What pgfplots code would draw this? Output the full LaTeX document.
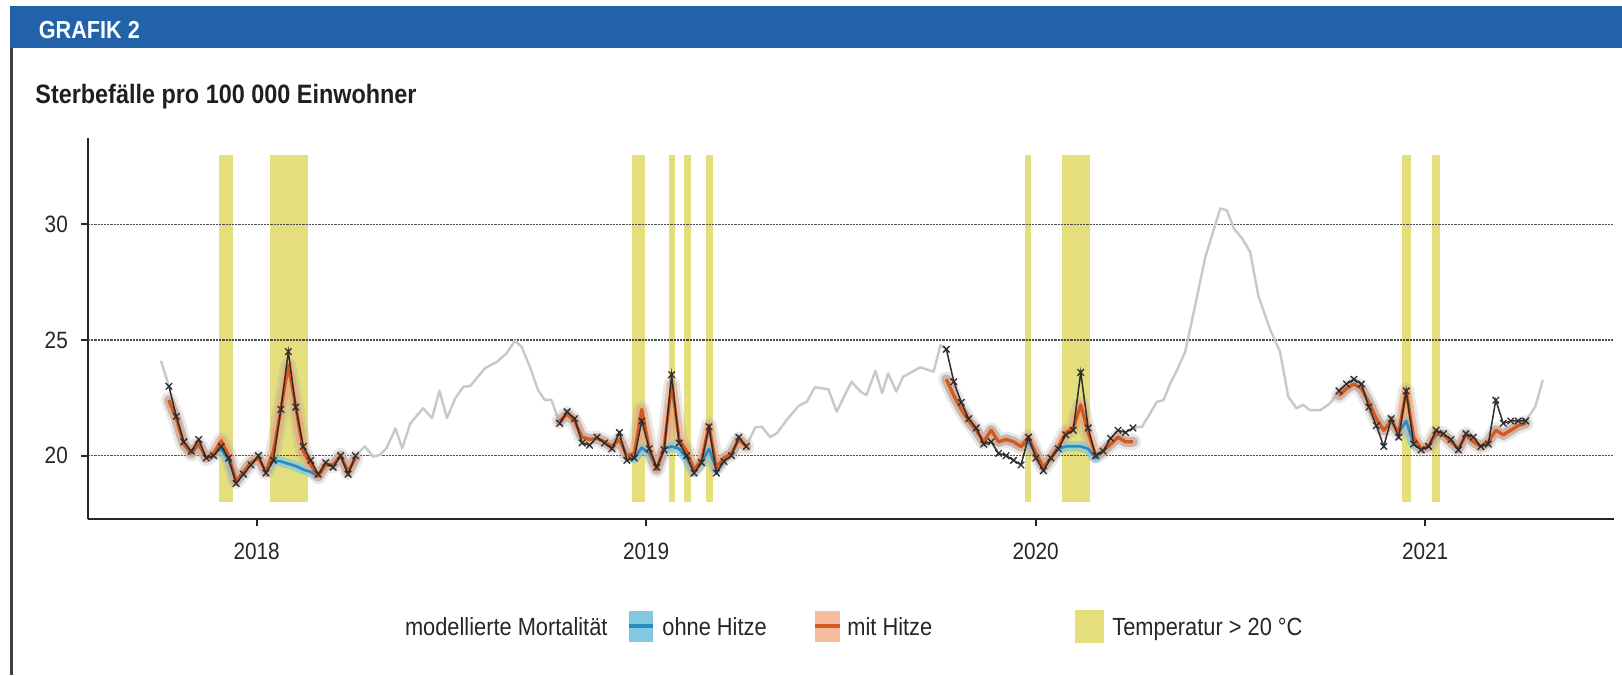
\documentclass[border=0pt]{standalone}
\usepackage{fontspec}
\setmainfont{Liberation Sans}[FakeStretch=0.88]
\usepackage{pgfplots}
\usepackage{pgfplotstable}
\pgfplotsset{compat=1.18}
\definecolor{headerblue}{RGB}{33,98,170}
\definecolor{yel}{RGB}{228,222,125}
\definecolor{orl}{RGB}{212,88,32}
\definecolor{orb}{RGB}{240,160,120}
\definecolor{bll}{RGB}{40,140,195}
\definecolor{blb}{RGB}{130,200,225}
\definecolor{grb}{RGB}{165,165,165}
\definecolor{obs}{RGB}{45,45,45}
\definecolor{grl}{RGB}{200,200,200}

\pgfplotstableread{
i obs mit ohne
0 23.0 22.4 22.4
1 21.7 21.6 21.6
2 20.6 20.5 20.5
3 20.2 20.1 20.1
4 20.7 20.5 20.5
5 19.9 19.9 19.9
6 20.0 20.1 20.1
7 20.4 20.65 20.3
8 19.9 20.0 19.8
9 18.8 18.9 18.9
10 19.2 19.3 19.3
11 19.6 19.7 19.7
12 20.0 19.9 19.9
13 19.25 19.3 19.3
14 19.8 20.2 19.8
15 22.0 22.0 19.75
16 24.5 23.9 19.65
17 22.1 22.1 19.55
18 20.4 20.2 19.4
19 19.8 19.6 19.3
20 19.2 19.1 19.1
21 19.7 19.6 19.6
22 19.5 19.6 19.6
23 20.0 20.0 20.0
24 19.2 19.3 19.3
25 20.0 19.9 19.9
}\seasonA

\pgfplotstableread{
i obs mit ohne
0 21.4 21.5 21.5
1 21.9 21.8 21.8
2 21.6 21.5 21.5
3 20.55 20.8 20.8
4 20.45 20.7 20.7
5 20.8 20.75 20.75
6 20.55 20.6 20.6
7 20.3 20.4 20.4
8 21.0 20.7 20.7
9 19.8 20.0 20.0
10 19.9 20.1 19.9
11 21.5 22.0 20.35
12 20.3 20.3 20.1
13 19.5 19.4 19.4
14 20.25 20.4 20.3
15 23.5 23.1 20.4
16 20.55 20.7 20.3
17 20.0 20.2 19.9
18 19.25 19.4 19.3
19 19.7 19.8 19.7
20 21.25 21.3 20.3
21 19.25 19.5 19.4
22 19.75 19.9 19.9
23 20.0 20.1 20.1
24 20.8 20.7 20.7
25 20.4 20.4 20.4
}\seasonB

\pgfplotstableread{
i obs mit ohne
0 24.6 23.3 23.3
1 23.2 22.6 22.6
2 22.3 22.0 22.0
3 21.6 21.5 21.5
4 21.2 21.1 21.1
5 20.5 20.6 20.6
6 20.6 21.1 21.1
7 20.1 20.6 20.6
8 20.0 20.7 20.7
9 19.8 20.6 20.6
10 19.6 20.4 20.4
11 20.8 20.8 20.6
12 19.9 20.1 20.1
13 19.35 19.5 19.5
14 19.9 19.9 19.9
15 20.3 20.4 20.3
16 20.9 21.0 20.4
17 21.1 21.2 20.4
18 23.6 22.2 20.4
19 21.2 21.0 20.3
20 20.0 20.0 19.9
21 20.2 20.2 20.2
22 20.75 20.5 20.5
23 21.1 20.8 20.8
24 21.0 20.6 20.6
25 21.2 20.6 20.6
}\seasonC

\pgfplotstableread{
i obs mit ohne
0 22.8 22.6 22.6
1 23.1 22.9 22.9
2 23.3 23.1 23.1
3 23.1 22.9 22.9
4 22.1 22.3 22.3
5 21.3 21.6 21.6
6 20.4 21.1 21.1
7 21.6 21.5 21.5
8 20.8 21.0 21.0
9 22.8 22.8 21.5
10 20.5 20.8 20.5
11 20.25 20.3 20.3
12 20.4 20.4 20.4
13 21.1 21.0 20.9
14 20.95 20.9 20.9
15 20.7 20.6 20.6
16 20.25 20.3 20.3
17 20.95 20.9 20.9
18 20.8 20.6 20.6
19 20.4 20.4 20.4
20 20.5 20.6 20.6
21 22.4 21.1 21.1
22 21.4 20.9 20.9
23 21.5 21.1 21.1
24 21.5 21.3 21.3
25 21.5 21.4 21.4
}\seasonD

\pgfplotstableread{
w y
-12.8 24.1
-11.75 23.0
}\grayA
\pgfplotstableread{
w y
13.25 20.0
14.5 20.4
15.6 19.96
16.5 20.03
17.4 20.32
18.6 21.18
19.5 20.32
20.6 21.4
22.3 22.05
23.5 21.62
24.5 22.81
25.5 21.62
26.6 22.48
27.7 22.98
28.6 23.01
30.6 23.78
32.2 24.06
33.5 24.43
34.6 24.97
35.5 24.71
36.6 23.85
37.7 22.84
38.6 22.41
39.5 22.41
40.6 21.4
}\grayB
\pgfplotstableread{
w y
65.6 20.4
66.8 21.23
67.7 21.25
68.8 20.8
69.7 20.97
71.0 21.54
72.6 22.15
73.7 22.33
74.8 22.96
76.6 22.87
77.7 21.9
79.7 23.2
80.9 22.77
81.7 22.62
82.9 23.67
83.8 22.7
84.6 23.56
85.7 22.77
86.6 23.41
88.9 23.82
90.7 23.63
91.6 24.78
92.4 24.6
}\grayC
\pgfplotstableread{
w y
117.4 21.2
118.6 21.25
119.7 21.83
120.6 22.33
121.5 22.4
122.4 23.13
123.3 23.7
124.4 24.5
125.5 26.15
127.1 28.6
128.2 29.75
129.1 30.69
130.0 30.6
130.9 29.83
132.0 29.4
133.1 28.8
134.2 26.9
135.8 25.43
137.1 24.5
138.2 22.55
139.3 22.05
140.2 22.2
141.1 21.97
142.5 21.97
143.8 22.26
145.0 22.8
}\grayD
\pgfplotstableread{
w y
170.0 21.5
171.3 22.12
172.3 23.27
}\grayE

\newcommand\heatbar[2]{\addplot[fill=yel, draw=none] coordinates {(#1,18) (#1,33) (#2,33) (#2,18)} -- cycle;}
\newcommand\grayseg[1]{\addplot[grl, line width=1.2pt, line join=round] table[x=w, y=y] {#1};}
\newcommand\season[2]{%
  \addplot[grb, opacity=0.25, line width=8pt, line join=round, line cap=round] table[x expr=\thisrow{i}+#2, y=mit] {#1};
  \addplot[blb, opacity=0.7, line width=5pt, line join=round, line cap=round] table[x expr=\thisrow{i}+#2, y=ohne] {#1};
  \addplot[orb, opacity=0.6, line width=5pt, line join=round, line cap=round] table[x expr=\thisrow{i}+#2, y=mit] {#1};
  \addplot[bll, line width=1.3pt, line join=round] table[x expr=\thisrow{i}+#2, y=ohne] {#1};
  \addplot[orl, line width=1.6pt, line join=round] table[x expr=\thisrow{i}+#2, y=mit] {#1};
  \addplot[obs, line width=0.75pt, mark=x, mark size=2.3pt, mark options={line width=0.65pt}] table[x expr=\thisrow{i}+#2, y=obs] {#1};
}

\begin{document}
\begin{tikzpicture}
\path[use as bounding box] (0,0) rectangle (811pt,-337.5pt);
% header
\fill[headerblue] (5pt,-3pt) rectangle (811pt,-24pt);
\node[anchor=base west, text=white, font=\fontsize{12.3}{14}\selectfont\bfseries, inner sep=0pt] at (19.2pt,-19.2pt) {GRAFIK 2};
\draw[line width=1.3pt, black!75] (5.7pt,-24pt) -- (5.7pt,-337.5pt);
% title
\node[anchor=base west, font=\fontsize{13.3}{15}\selectfont\bfseries, text=black!88, inner sep=0pt] at (17.5pt,-51.5pt) {Sterbefälle pro 100 000 Einwohner};

\begin{axis}[
  at={(43.95pt,-259.65pt)}, anchor=south west,
  scale only axis, width=762.9pt, height=190.85pt,
  xmin=-22.6, xmax=181.8, ymin=17.25, ymax=33.75,
  axis x line*=bottom, axis y line*=left,
  axis line style={line width=1pt, black!85},
  tick style={line width=0.9pt, black!85},
  tick align=outside, major tick length=3.5pt,
  xtick={0,52.18,104.36,156.54}, xticklabels={2018,2019,2020,2021},
  ytick={20,25,30}, yticklabels={20,25,30},
  tick label style={font=\fontsize{11.8}{13}\selectfont, text=black!85},
  xticklabel style={yshift=-5pt},
  yticklabel style={xshift=-3pt},
]
\heatbar{-5.1}{-3.2}
\heatbar{1.8}{6.9}
\heatbar{50.3}{52.0}
\heatbar{55.2}{56.1}
\heatbar{57.2}{58.2}
\heatbar{60.2}{61.1}
\heatbar{102.9}{103.8}
\heatbar{107.9}{111.7}
\heatbar{153.5}{154.6}
\heatbar{157.5}{158.5}
\draw[line width=0.7pt, black!70, dash pattern=on 1.1pt off 0.5pt] (axis cs:-22.6,20) -- (axis cs:181.8,20);
\draw[line width=0.7pt, black!70, dash pattern=on 1.1pt off 0.5pt] (axis cs:-22.6,25) -- (axis cs:181.8,25);
\draw[line width=0.7pt, black!70, dash pattern=on 1.1pt off 0.5pt] (axis cs:-22.6,30) -- (axis cs:181.8,30);
\grayseg{\grayA}
\grayseg{\grayB}
\grayseg{\grayC}
\grayseg{\grayD}
\grayseg{\grayE}
\season{\seasonA}{-11.75}
\season{\seasonB}{40.6}
\season{\seasonC}{92.4}
\season{\seasonD}{145.0}
\end{axis}

% legend
\begin{scope}[font=\fontsize{12.4}{14}\selectfont, text=black!85]
\node[anchor=base west, inner sep=0pt] at (202.3pt,-317.5pt) {modellierte Mortalität};
\fill[blb] (314.4pt,-305.3pt) rectangle (326.5pt,-320.8pt);
\draw[bll, line width=1.8pt] (314.4pt,-313pt) -- (326.5pt,-313pt);
\node[anchor=base west, inner sep=0pt] at (331pt,-317.5pt) {ohne Hitze};
\fill[orb!70] (407.5pt,-305.3pt) rectangle (420pt,-320.8pt);
\draw[orl, line width=1.8pt] (407.5pt,-313pt) -- (420pt,-313pt);
\node[anchor=base west, inner sep=0pt] at (423.5pt,-317.5pt) {mit Hitze};
\fill[yel] (537.5pt,-304.8pt) rectangle (552pt,-321.3pt);
\node[anchor=base west, inner sep=0pt] at (556pt,-317.5pt) {Temperatur > 20 °C};
\end{scope}
\end{tikzpicture}
\end{document}
